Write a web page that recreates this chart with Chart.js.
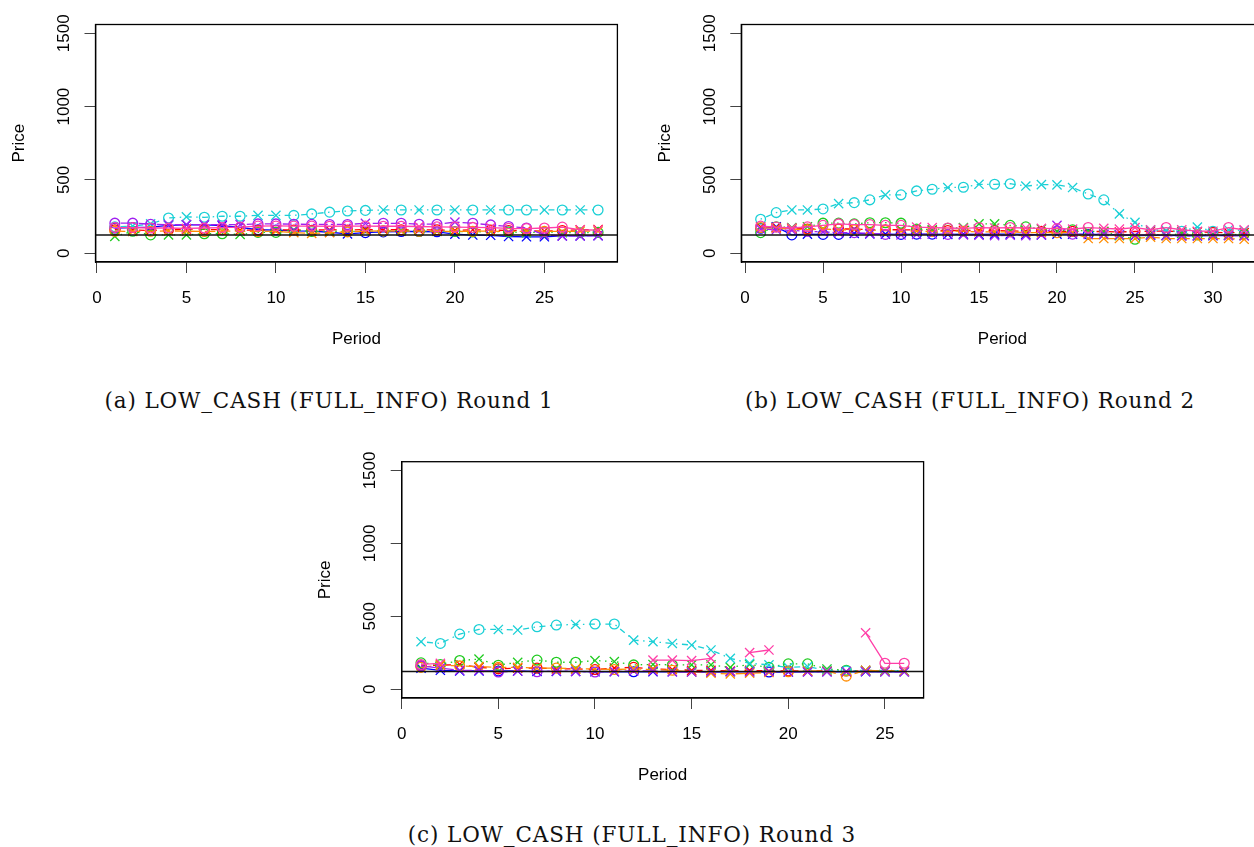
<!DOCTYPE html>
<html><head><meta charset="utf-8">
<script src="https://cdn.jsdelivr.net/npm/chart.js@4.4.1/dist/chart.umd.min.js"></script>
<style>
html,body{margin:0;padding:0;background:#fff;width:1254px;height:847px;overflow:hidden;position:relative}
canvas{position:absolute}
.cap{position:absolute;width:700px;font-family:'DejaVu Serif',serif;font-size:21.5px;letter-spacing:0.9px;color:#111;white-space:nowrap;text-align:center;line-height:1}
</style></head><body>
<canvas id="ca" width="630" height="362" style="left:0px;top:0px"></canvas>
<canvas id="cb" width="640" height="362" style="left:640px;top:0px"></canvas>
<canvas id="cc" width="640" height="362" style="left:300px;top:437px"></canvas>
<div class="cap" style="left:-21px;top:390px">(a) LOW_CASH (FULL_INFO) Round 1</div>
<div class="cap" style="left:620px;top:390px">(b) LOW_CASH (FULL_INFO) Round 2</div>
<div class="cap" style="left:282px;top:824px">(c) LOW_CASH (FULL_INFO) Round 3</div>
<script>
// ---------- data ----------
const Y_TICKS = [0, 500, 1000, 1500];
const A_X_TICKS = [0, 5, 10, 15, 20, 25];
const B_X_TICKS = [0, 5, 10, 15, 20, 25, 30];
const C_X_TICKS = [0, 5, 10, 15, 20, 25];
const REF = [125, 125, 121];

// Panel a (28 periods)
const A_BLUE   = [172,175,178,190,193,193,188,176,160,158,152,150,143,132,140,145,148,148,146,130,124,122,114,112,112,118,118,120];
const A_BLUE_M = "ooxxxxxoooxxxxoooooxxxxxxxxx";
const A_RED    = [160,158,155,160,165,162,160,158,157,160,158,157,160,158,162,160,160,158,160,155,160,158,155,155,150,155,160,162];
const A_RED_M  = "oxxoxooxoxooxoxxoxoxxooxxoxx";
const A_GREEN  = [115,150,125,125,125,133,133,128,142,142,160,148,150,148,150,152,155,150,150,148,145,148,145,140,145,140,140,142];
const A_GREEN_M= "xooxxooxooxoxoxoxoxooxoxoxoo";
const A_CYAN   = [180,185,200,240,248,245,252,252,258,258,258,268,280,288,292,295,295,295,295,295,295,295,295,295,295,295,295,295];
const A_CYAN_M = "oxxoxoooxxoooooxoxoxoxooxoxo";
const A_ORANGE = [150,148,150,152,150,148,150,150,148,150,140,135,140,145,150,152,150,150,150,148,150,150,148,150,150,148,150,150];
const A_ORANGE_M="oxoxxoxxoxxxxoxoxoxxoxxxoxxx";
const A_PURPLE = [205,205,198,195,195,195,195,195,200,200,198,197,196,196,204,204,204,198,198,212,204,193,182,172,125,118,118,120];
const A_PURPLE_M="oooxxxxxooooooxooooxooooxxxx";
const A_PINK   = [175,175,172,172,170,172,175,178,185,186,185,185,184,185,185,184,184,182,180,178,176,175,170,168,172,178,160,158];
const A_PINK_M = "ooooxooooooooooooxoooxooooxx";

// Panel b (32 periods)
const B_BLUE   = [170,180,125,130,128,128,135,132,130,128,130,130,128,130,128,130,130,128,125,130,130,128,128,125,120,122,122,120,118,120,122,120];
const B_BLUE_M = "oxoxooxxxoooxxxxxxxxxoxxxxxxxxxx";
const B_RED    = [180,175,170,165,165,165,165,160,160,160,158,155,155,155,155,155,152,150,150,148,150,148,148,145,148,150,150,148,145,142,140,140];
const B_RED_M  = "xxxoxoxxoxoxoxxoxxoxoxxxoxxxxoxx";
const B_GREEN  = [140,180,175,180,205,205,200,208,208,205,165,160,170,175,200,200,190,180,165,150,160,150,148,120,95,130,120,135,125,130,125,130];
const B_GREEN_M= "ooxxoooooooxoxxxooxxoxxxoxxxoxxo";
const B_CYAN   = [232,277,295,295,302,338,345,364,398,398,425,436,448,450,470,470,474,458,468,466,448,404,364,268,210,158,155,150,178,150,160,155];
const B_CYAN_M = "ooxxoxooxoooxoxooxxxxooxxxxoxoxx";
const B_ORANGE = [175,170,165,160,165,160,160,158,155,150,150,148,150,150,145,145,145,140,140,140,140,100,100,100,100,110,100,100,100,100,100,95];
const B_ORANGE_M="oxxoxxoxoxxoxoxxoxxoxxxxxxxxxxxx";
const B_PURPLE = [165,160,155,150,145,140,140,135,128,125,128,130,128,125,122,120,122,120,125,190,130,128,130,125,122,125,120,118,120,122,120,120];
const B_PURPLE_M="xxxoxxoxoxxxoxxxxxxxoxxxxxxxxxxx";
const B_PINK   = [185,178,172,180,190,200,195,195,190,190,178,175,172,170,175,172,175,172,170,168,165,175,170,165,175,160,175,160,150,150,175,160];
const B_PINK_M = "ooxoooooooxxoxoxoxxoxoxxxxoxxxox";

// Panel c (26 periods)
const C_BLUE   = [145,130,125,125,125,125,122,122,122,120,120,120,120,120,120,118,120,120,118,118,120,120,120,120,120,120];
const C_BLUE_M = "xxxxoxxxxxxoxxxxxxoxxxxxxx";
const C_RED    = [160,165,170,150,140,145,145,140,140,135,145,150,140,135,130,130,125,130,125,125,125,125,120,130,125,125];
const C_RED_M  = "oxxxoxoxxoxoxxxxxxxoxxxxxx";
const C_GREEN  = [181,170,197,207,165,185,200,185,185,197,190,167,170,167,167,167,150,170,150,174,174,139,130,125,130,125];
const C_GREEN_M= "oooxoxoooxxoxoxxxxoooxoxxx";
const C_CYAN   = [326,314,378,410,410,406,428,440,444,447,447,337,326,314,303,269,212,178,167,150,155,130,125,130,125,125];
const C_CYAN_M = "xoooxxooxooxxxxxxxxxxxoxxx";
const C_ORANGE = [150,165,160,155,150,150,145,145,140,140,135,140,135,130,120,110,105,110,115,120,125,125,90,130,125,125];
const C_ORANGE_M="oxoxoxxoxxoxxoxxxxxoxxoxxx";
const C_PURPLE = [160,145,130,130,118,125,120,125,122,118,122,125,125,120,118,120,122,120,122,120,118,120,122,122,120,118];
const C_PURPLE_M="oxxxoxoxxoxxxxxxxxxxxxxxxx";
const C_PINK   = [170,178,null,null,null,null,null,null,null,null,null,null,200,200,196,212,null,251,269,null,null,null,null,387,178,178];
const C_PINK_M = "oxooooooooooxxxxoxxooooxoo";

// ---------- styles ----------
const COL = {blue:'#0000FF', red:'#FF0000', green:'#1FCB1F', cyan:'#1BD0D6', orange:'#FF8C00', purple:'#A020F0', pink:'#FF3FA8'};
const DASH = {blue:[], red:[6,6], green:[1.5,4.5], cyan:[1.5,4.5,6,4.5], orange:[10.5,4.5], purple:[3,3,9,3], pink:[]};

function series(name, vals, marks){
  return {
    label:name,
    data: vals.map((v,i)=>({x:i+1, y:v, m:marks[i]||'o'})),
    borderColor:COL[name], borderWidth:1.3, borderDash:DASH[name],
    showLine:true, spanGaps:false, fill:false,
    pointStyle: c => (c.raw && c.raw.m==='x') ? 'crossRot' : 'circle',
    pointRadius: c => (c.raw && c.raw.m==='x') ? 6.5 : 4.9,
    pointBorderColor:COL[name], pointBackgroundColor:'rgba(0,0,0,0)', pointBorderWidth:1.3,
    pointHoverRadius:0
  };
}
function refLine(v){
  return {label:'ref', data:[{x:-10,y:v},{x:60,y:v}], borderColor:'#111', borderWidth:1.5, pointRadius:0, showLine:true, clip:0};
}

const frame = {id:'frame', afterDraw(chart){
  const {ctx, chartArea:a} = chart;
  ctx.save(); ctx.strokeStyle='#000'; ctx.lineWidth=1.3;
  ctx.strokeRect(a.left, a.top, a.right-a.left, a.bottom-a.top); ctx.restore();
}};

const FONT = {family:"'Liberation Sans', Arial, sans-serif", size:17};

// g: canvas box (cl,ct,cw,ch), plot box (bl,bt,br,bb), title centres (pt = Price x, pe = Period y)
function makeChart(id, g, xMin, xMax, xTicks, ref, sets){
  const cv = document.getElementById(id);
  const datasets = [refLine(ref)].concat(sets);
  new Chart(cv, {
    type:'scatter',
    data:{datasets},
    options:{
      responsive:false, animation:false, devicePixelRatio:1,
      layout:{autoPadding:false, padding:{left:0, top:g.bt-g.ct, right:(g.cl+g.cw)-g.br, bottom:0}},
      plugins:{legend:{display:false}, tooltip:{enabled:false}},
      events:[],
      scales:{
        x:{type:'linear', min:xMin, max:xMax,
          afterBuildTicks: s => { s.ticks = xTicks.map(v=>({value:v})); },
          afterFit: s => { s.height = (g.ct+g.ch) - g.bb; },
          ticks:{autoSkip:false, maxRotation:0, minRotation:0, padding:15, color:'#000', font:FONT, callback:v=>String(v)},
          grid:{drawOnChartArea:false, drawTicks:true, tickLength:11, color:'#444', lineWidth:1},
          border:{display:true, color:'#000', width:1.3},
          title:{display:true, text:'Period', color:'#000', font:FONT, padding:{top:0, bottom:(g.ct+g.ch) - (g.bb+77) - 10.2}}
        },
        y:{type:'linear', min:-60, max:1560,
          afterBuildTicks: s => { s.ticks = Y_TICKS.map(v=>({value:v})); },
          afterFit: s => { s.width = g.bl - g.cl; },
          ticks:{minRotation:90, maxRotation:90, crossAlign:'center', padding:1.4, color:'#000', font:FONT, callback:v=>String(v)},
          grid:{drawOnChartArea:false, drawTicks:true, tickLength:11, color:'#444', lineWidth:1},
          border:{display:true, color:'#000', width:1.3},
          title:{display:true, text:'Price', color:'#000', font:FONT, padding:{top:(g.bl-76.3)-g.cl-10.2, bottom:0}}
        }
      }
    },
    plugins:[frame]
  });
}

const GA = {cl:0,   ct:0,   cw:630, ch:362, bl:95.5,  bt:24.5,  br:617.4,  bb:262};
const GB = {cl:640, ct:0,   cw:640, ch:362, bl:741.3, bt:24.5,  br:1263.5, bb:262};
const GC = {cl:300, ct:437, cw:640, ch:362, bl:401.7, bt:461.7, br:923.6,  bb:698};

function setFor(P){
  return [
    series('pink',   P.pink,   P.pinkM),
    series('purple', P.purple, P.purpleM),
    series('orange', P.orange, P.orangeM),
    series('cyan',   P.cyan,   P.cyanM),
    series('green',  P.green,  P.greenM),
    series('red',    P.red,    P.redM),
    series('blue',   P.blue,   P.blueM)
  ];
}

makeChart('ca', GA, -0.08, 29.08, A_X_TICKS, REF[0], setFor({
  pink:A_PINK,pinkM:A_PINK_M,purple:A_PURPLE,purpleM:A_PURPLE_M,orange:A_ORANGE,orangeM:A_ORANGE_M,
  cyan:A_CYAN,cyanM:A_CYAN_M,green:A_GREEN,greenM:A_GREEN_M,red:A_RED,redM:A_RED_M,blue:A_BLUE,blueM:A_BLUE_M}));
makeChart('cb', GB, -0.24, 33.24, B_X_TICKS, REF[1], setFor({
  pink:B_PINK,pinkM:B_PINK_M,purple:B_PURPLE,purpleM:B_PURPLE_M,orange:B_ORANGE,orangeM:B_ORANGE_M,
  cyan:B_CYAN,cyanM:B_CYAN_M,green:B_GREEN,greenM:B_GREEN_M,red:B_RED,redM:B_RED_M,blue:B_BLUE,blueM:B_BLUE_M}));
makeChart('cc', GC, 0, 27, C_X_TICKS, REF[2], setFor({
  pink:C_PINK,pinkM:C_PINK_M,purple:C_PURPLE,purpleM:C_PURPLE_M,orange:C_ORANGE,orangeM:C_ORANGE_M,
  cyan:C_CYAN,cyanM:C_CYAN_M,green:C_GREEN,greenM:C_GREEN_M,red:C_RED,redM:C_RED_M,blue:C_BLUE,blueM:C_BLUE_M}));
</script>
</body></html>
